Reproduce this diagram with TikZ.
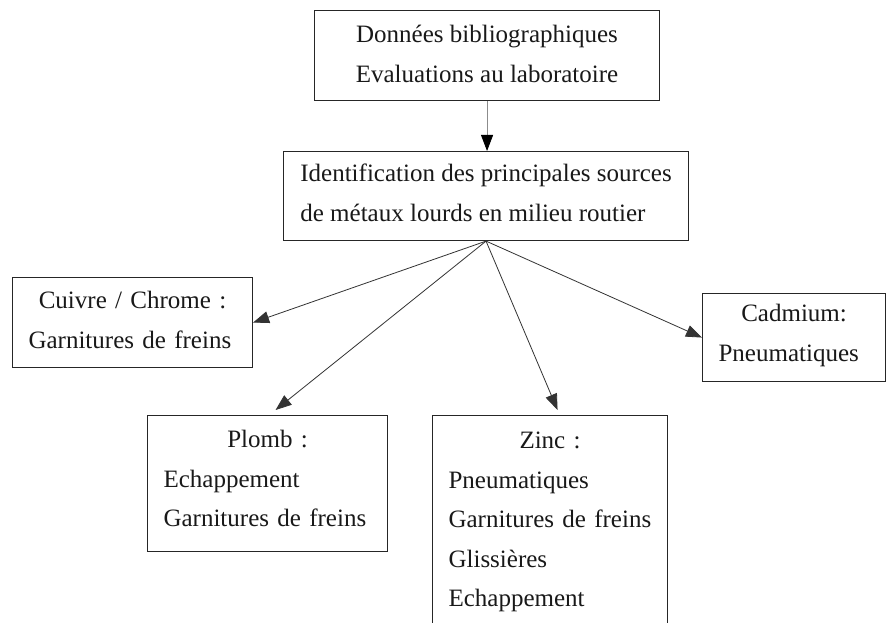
\documentclass[tikz,border=0pt]{standalone}
\usepackage{fontspec}
\setmainfont{Liberation Serif}
\usetikzlibrary{arrows.meta}
\newcommand{\topgap}[1]{\rule{0pt}{#1pt}}
\newcommand{\botgap}[1]{\rule[-#1pt]{0pt}{#1pt}}
\begin{document}
\begin{tikzpicture}[x=1pt,y=-1pt,
  box/.style={draw=black!85, line width=1.1pt, inner xsep=16pt, inner ysep=0pt,
    text=black!90, font=\fontsize{25}{39.5}\selectfont, anchor=north west},
  conn/.style={line width=0.8pt, draw=black!80, -{Triangle[length=16pt,width=12pt]}}
]
\useasboundingbox (0,0) rectangle (887,623);
\fill[white] (0,0) rectangle (887,623);
\clip (0,0) rectangle (887,623);

\node[box, align=center, minimum width=345pt] (top) at (314,10)
  {\topgap{32}Données bibliographiques\\Evaluations au laboratoire\botgap{18.5}};

\node[box, align=left, minimum width=405pt] (mid) at (283,151)
  {\topgap{30}Identification des principales sources\\de métaux lourds en milieu routier\botgap{19.5}};

\node[box, align=left, text width=208pt] (cuivre) at (12,277)
  {\topgap{31}\hfill Cuivre / Chrome :\hfill\null\\Garnitures de freins\botgap{19.5}};

\node[box, align=left, text width=151pt] (cadmium) at (702,293)
  {\topgap{28}\hfill Cadmium:\hfill\null\\Pneumatiques\botgap{20.5}};

\node[box, align=left, text width=208pt] (plomb) at (147,415)
  {\topgap{32}\hfill Plomb :\hfill\null\\Echappement\\Garnitures de freins\botgap{25}};

\node[box, align=left, text width=203pt] (zinc) at (432,415)
  {\topgap{33}\hfill Zinc :\hfill\null\\Pneumatiques\\Garnitures de freins\\Glissières\\Echappement\botgap{25}};

\draw[line width=0.8pt, draw=black!45, -{Triangle[length=16pt,width=12pt,color=black]}]
  (top.south) -- (top.south |- mid.north);
\draw[conn] (mid.south) -- (cuivre.east);
\draw[conn] (mid.south) -- ([xshift=8pt,yshift=5pt]plomb.north);
\draw[conn] (mid.south) -- ([xshift=7.5pt,yshift=5pt]zinc.north);
\draw[conn] (mid.south) -- (cadmium.west);
\end{tikzpicture}
\end{document}
